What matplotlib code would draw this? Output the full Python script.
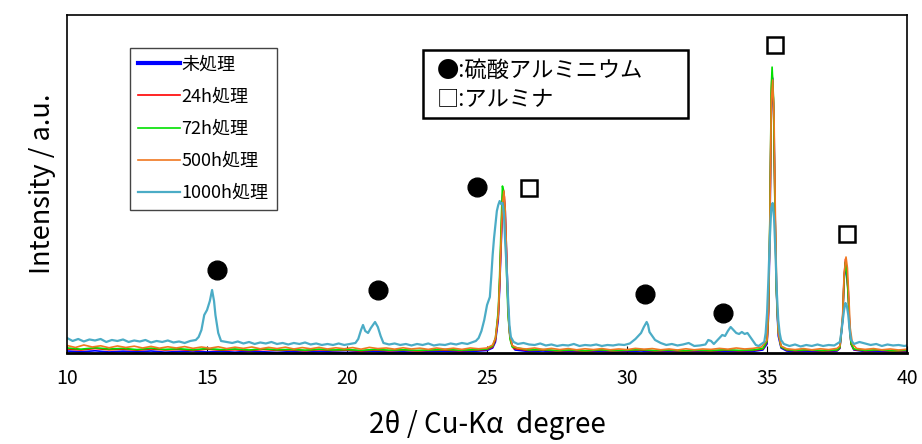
import matplotlib
matplotlib.use("Agg")
import matplotlib.pyplot as plt
from matplotlib.patches import Rectangle

plt.rcParams['font.family'] = ['Noto Sans CJK JP', 'DejaVu Sans']

# XRD パターン (2θ, 強度) 図から読み取った値
blue_pts = [(10.0, 20), (10.5, 12), (11.0, 22), (11.5, 10), (12.0, 18), (12.5, 12), (13.0, 20), (13.5, 8),
            (14.0, 15), (14.5, 20), (15.0, 10), (15.5, 16), (16.0, 8), (16.5, 18), (17.0, 12), (17.5, 6),
            (18.0, 14), (18.5, 8), (19.0, 16), (19.5, 10), (20.0, 6), (20.5, 14), (21.0, 18), (21.5, 8),
            (22.0, 12), (22.5, 6), (23.0, 14), (23.5, 18), (24.0, 10), (24.5, 16), (25.0, 25), (25.2, 50),
            (25.3, 110), (25.4, 330), (25.45, 640), (25.5, 1050), (25.55, 1400), (25.6, 1580), (25.65, 1420),
            (25.7, 980), (25.75, 520), (25.8, 210), (25.9, 70), (26.0, 30), (26.5, 14), (27.0, 20), (27.5, 8),
            (28.0, 16), (28.5, 10), (29.0, 18), (29.5, 8), (30.0, 14), (30.5, 20), (31.0, 10), (31.5, 16),
            (32.0, 8), (32.5, 14), (33.0, 10), (33.5, 18), (34.0, 12), (34.5, 16), (34.85, 30), (35.0, 90),
            (35.05, 350), (35.1, 1150), (35.15, 2450), (35.2, 2750), (35.25, 2250), (35.3, 1150), (35.35, 480),
            (35.4, 170), (35.5, 50), (35.7, 20), (36.0, 12), (36.5, 18), (37.0, 10), (37.5, 20), (37.6, 45),
            (37.7, 320), (37.75, 720), (37.8, 900), (37.85, 760), (37.9, 620), (37.95, 260), (38.0, 90),
            (38.1, 30), (38.5, 14), (39.0, 18), (39.5, 8), (40.0, 14)]

red_pts = [(10.0, 40), (10.5, 30), (11.0, 45), (11.5, 32), (12.0, 38), (12.5, 28), (13.0, 40), (13.5, 30),
           (14.0, 35), (14.5, 25), (15.0, 38), (15.5, 28), (16.0, 32), (16.5, 24), (17.0, 35), (17.5, 26),
           (18.0, 30), (18.5, 22), (19.0, 32), (19.5, 25), (20.0, 28), (20.5, 20), (21.0, 30), (21.5, 22),
           (22.0, 28), (22.5, 20), (23.0, 26), (23.5, 30), (24.0, 22), (24.5, 28), (25.0, 35), (25.2, 60),
           (25.3, 130), (25.4, 380), (25.45, 700), (25.5, 1150), (25.55, 1560), (25.58, 1640), (25.62, 1560),
           (25.67, 1200), (25.72, 700), (25.77, 330), (25.85, 110), (25.95, 45), (26.5, 25), (27.0, 30),
           (27.5, 20), (28.0, 26), (28.5, 18), (29.0, 28), (29.5, 20), (30.0, 25), (30.5, 30), (31.0, 20),
           (31.5, 26), (32.0, 18), (32.5, 24), (33.0, 20), (33.5, 28), (34.0, 22), (34.5, 26), (34.85, 40),
           (35.0, 110), (35.05, 420), (35.1, 1300), (35.15, 2600), (35.18, 2800), (35.23, 2500), (35.28, 1500),
           (35.33, 650), (35.4, 220), (35.5, 60), (35.7, 30), (36.0, 22), (36.5, 28), (37.0, 20), (37.5, 26),
           (37.6, 50), (37.7, 350), (37.75, 760), (37.8, 940), (37.85, 820), (37.9, 560), (37.95, 240),
           (38.0, 90), (38.1, 35), (38.5, 22), (39.0, 28), (39.5, 18), (40.0, 24)]

green_pts = [(10.0, 50), (10.5, 38), (11.0, 52), (11.5, 40), (12.0, 46), (12.5, 34), (13.0, 48), (13.5, 36),
             (14.0, 42), (14.5, 32), (15.0, 44), (15.5, 34), (16.0, 40), (16.5, 30), (17.0, 42), (17.5, 32),
             (18.0, 36), (18.5, 28), (19.0, 38), (19.5, 30), (20.0, 34), (20.5, 26), (21.0, 36), (21.5, 28),
             (22.0, 32), (22.5, 26), (23.0, 30), (23.5, 36), (24.0, 28), (24.5, 32), (25.0, 40), (25.2, 70),
             (25.3, 150), (25.4, 420), (25.45, 780), (25.5, 1250), (25.55, 1670), (25.6, 1600), (25.65, 1250),
             (25.7, 780), (25.75, 380), (25.82, 140), (25.9, 60), (26.5, 30), (27.0, 34), (27.5, 24),
             (28.0, 30), (28.5, 22), (29.0, 32), (29.5, 24), (30.0, 28), (30.5, 34), (31.0, 24), (31.5, 30),
             (32.0, 22), (32.5, 28), (33.0, 24), (33.5, 32), (34.0, 26), (34.5, 30), (34.85, 45), (35.0, 120),
             (35.05, 450), (35.1, 1350), (35.15, 2650), (35.18, 2860), (35.23, 2550), (35.28, 1500),
             (35.33, 640), (35.4, 210), (35.5, 60), (35.7, 34), (36.0, 26), (36.5, 32), (37.0, 24), (37.5, 30),
             (37.6, 55), (37.7, 340), (37.75, 730), (37.8, 910), (37.85, 800), (37.9, 560), (37.95, 250),
             (38.0, 95), (38.1, 40), (38.5, 26), (39.0, 32), (39.5, 22), (40.0, 28)]

orange_pts = [(10.0, 75), (10.3, 55), (10.6, 80), (10.9, 60), (11.2, 72), (11.5, 52), (11.8, 70), (12.1, 55),
              (12.4, 68), (12.7, 50), (13.0, 66), (13.3, 48), (13.6, 62), (13.9, 50), (14.2, 64), (14.5, 46),
              (14.8, 60), (15.1, 48), (15.4, 62), (15.7, 44), (16.0, 58), (16.3, 46), (16.6, 60), (16.9, 42),
              (17.2, 56), (17.5, 44), (17.8, 58), (18.1, 40), (18.4, 54), (18.7, 42), (19.0, 56), (19.3, 40),
              (19.6, 52), (19.9, 42), (20.2, 54), (20.5, 38), (20.8, 56), (21.1, 44), (21.4, 50), (21.7, 38),
              (22.0, 52), (22.3, 40), (22.6, 48), (22.9, 36), (23.2, 50), (23.5, 38), (23.8, 48), (24.1, 36),
              (24.4, 50), (24.7, 42), (25.0, 50), (25.2, 80), (25.3, 150), (25.4, 380), (25.45, 700),
              (25.5, 1100), (25.55, 1480), (25.6, 1620), (25.65, 1430), (25.7, 980), (25.75, 480), (25.8, 200),
              (25.9, 75), (26.1, 48), (26.4, 40), (26.7, 50), (27.0, 36), (27.3, 46), (27.6, 34), (27.9, 44),
              (28.2, 32), (28.5, 42), (28.8, 34), (29.1, 44), (29.4, 32), (29.7, 40), (30.0, 34), (30.3, 46),
              (30.6, 38), (30.9, 44), (31.2, 32), (31.5, 40), (31.8, 30), (32.1, 42), (32.4, 32), (32.7, 40),
              (33.0, 36), (33.3, 46), (33.6, 38), (33.9, 50), (34.2, 40), (34.5, 46), (34.8, 60), (35.0, 130),
              (35.05, 420), (35.1, 1250), (35.15, 2500), (35.2, 2730), (35.25, 2350), (35.3, 1300),
              (35.35, 560), (35.4, 200), (35.5, 70), (35.7, 42), (36.0, 34), (36.3, 44), (36.6, 32), (36.9, 42),
              (37.2, 34), (37.5, 46), (37.6, 70), (37.7, 380), (37.75, 780), (37.82, 960), (37.87, 850),
              (37.92, 560), (37.97, 250), (38.05, 90), (38.2, 45), (38.5, 36), (38.8, 44), (39.1, 32),
              (39.4, 40), (39.7, 30), (40.0, 38)]

cyan_pts = [(10.0, 150), (10.2, 120), (10.4, 140), (10.6, 115), (10.8, 135), (11.0, 125), (11.2, 140),
            (11.4, 110), (11.6, 130), (11.8, 120), (12.0, 135), (12.2, 110), (12.4, 125), (12.6, 115),
            (12.8, 130), (13.0, 105), (13.2, 120), (13.4, 110), (13.6, 125), (13.8, 105), (14.0, 115),
            (14.2, 100), (14.4, 120), (14.6, 130), (14.7, 160), (14.8, 230), (14.9, 380), (15.0, 430),
            (15.1, 520), (15.18, 630), (15.25, 520), (15.3, 380), (15.4, 200), (15.5, 120), (15.7, 110),
            (15.9, 100), (16.1, 115), (16.3, 95), (16.5, 110), (16.7, 90), (16.9, 105), (17.1, 95), (17.3, 110),
            (17.5, 90), (17.7, 100), (17.9, 85), (18.1, 100), (18.3, 90), (18.5, 105), (18.7, 85), (18.9, 95),
            (19.1, 80), (19.3, 90), (19.5, 80), (19.7, 95), (19.9, 80), (20.1, 90), (20.3, 100), (20.4, 140),
            (20.5, 230), (20.57, 280), (20.65, 220), (20.75, 200), (20.85, 250), (21.0, 310), (21.1, 260),
            (21.2, 170), (21.3, 100), (21.5, 85), (21.7, 95), (21.9, 80), (22.1, 90), (22.3, 75), (22.5, 90),
            (22.7, 80), (22.9, 95), (23.1, 75), (23.3, 85), (23.5, 80), (23.7, 95), (23.9, 85), (24.1, 100),
            (24.3, 90), (24.5, 110), (24.6, 120), (24.7, 150), (24.8, 220), (24.9, 330), (25.0, 480),
            (25.05, 520), (25.1, 560), (25.15, 760), (25.2, 980), (25.25, 1150), (25.3, 1280), (25.35, 1420),
            (25.4, 1480), (25.45, 1520), (25.5, 1490), (25.55, 1500), (25.6, 1400), (25.65, 1100), (25.7, 850),
            (25.75, 550), (25.8, 280), (25.85, 160), (25.95, 110), (26.1, 90), (26.3, 100), (26.5, 85),
            (26.7, 80), (26.9, 95), (27.1, 75), (27.3, 85), (27.5, 70), (27.7, 80), (27.9, 75), (28.1, 90),
            (28.3, 70), (28.5, 80), (28.7, 75), (28.9, 85), (29.1, 70), (29.3, 80), (29.5, 75), (29.7, 85),
            (29.9, 80), (30.1, 95), (30.3, 140), (30.4, 170), (30.5, 200), (30.6, 260), (30.7, 310),
            (30.75, 280), (30.8, 210), (30.9, 170), (31.0, 130), (31.2, 100), (31.4, 80), (31.6, 90),
            (31.8, 75), (32.0, 85), (32.2, 100), (32.4, 70), (32.6, 75), (32.8, 85), (32.9, 130), (33.0, 120),
            (33.1, 90), (33.2, 120), (33.3, 150), (33.4, 180), (33.5, 170), (33.6, 220), (33.7, 260),
            (33.8, 230), (33.9, 200), (34.0, 190), (34.1, 210), (34.2, 190), (34.3, 200), (34.4, 160),
            (34.5, 120), (34.6, 80), (34.7, 70), (34.8, 90), (34.9, 110), (34.95, 200), (35.0, 400),
            (35.05, 750), (35.1, 1150), (35.15, 1450), (35.2, 1500), (35.25, 1350), (35.3, 1000), (35.35, 600),
            (35.4, 330), (35.45, 200), (35.5, 130), (35.6, 90), (35.8, 70), (36.0, 85), (36.2, 65), (36.4, 80),
            (36.6, 70), (36.8, 85), (37.0, 70), (37.2, 80), (37.4, 75), (37.6, 110), (37.65, 200), (37.7, 320),
            (37.75, 430), (37.8, 500), (37.85, 470), (37.9, 380), (37.95, 230), (38.0, 130), (38.1, 90),
            (38.3, 110), (38.5, 95), (38.7, 80), (38.9, 90), (39.1, 70), (39.3, 85), (39.5, 75), (39.7, 80),
            (39.9, 70), (40.0, 75)]

labels = ["未処理", "24h処理", "72h処理", "500h処理", "1000h処理"]
colors = ["#0000FF", "#FF0000", "#00E000", "#F07820", "#4BACC6"]
series = [blue_pts, red_pts, green_pts, orange_pts, cyan_pts]

# ピーク帰属マーカー
circle_x = [15.36, 21.11, 24.64, 30.64, 33.43]
circle_y = [830, 630, 1660, 590, 400]
square_x = [26.5, 35.29, 37.86]
square_y = [1650, 3080, 1190]

fig = plt.figure(figsize=(9.22, 4.44), dpi=100)
ax = fig.add_axes([0.0727, 0.205, 0.9111, 0.761])

for pts, c, lab in zip(series, colors, labels):
    x, y = zip(*pts)
    lw = 1.6 if lab == "1000h処理" else 1.2
    ax.plot(x, y, color=c, lw=lw, label=lab)

ax.plot(circle_x, circle_y, 'o', color='black', ms=13.5, zorder=5)
ax.plot(square_x, square_y, 's', mfc='white', mec='black', mew=1.8, ms=11, zorder=5)

ax.set_xlim(10, 40)
ax.set_ylim(0, 3380)
ax.set_xticks([10, 15, 20, 25, 30, 35, 40])
ax.set_yticks([])
ax.tick_params(axis='x', direction='in', length=5, labelsize=14, pad=11)
for s in ax.spines.values():
    s.set_linewidth(1.2)
ax.spines['bottom'].set_linewidth(2)

ax.set_xlabel("2θ / Cu-Kα  degree", fontsize=20, labelpad=15)
ax.set_ylabel("Intensity / a.u.", fontsize=19.5, labelpad=8)

leg = ax.legend(loc='upper left', bbox_to_anchor=(0.075, 0.904), fontsize=13, frameon=True,
                fancybox=False, framealpha=1, edgecolor='#444444', handlelength=2.3,
                handletextpad=0.1, labelspacing=0.78, borderpad=0.45, borderaxespad=0)
leg.get_frame().set_linewidth(1.0)
leg.get_lines()[0].set_linewidth(3)

# 凡例ボックス (マーカーの説明)
ax.add_patch(Rectangle((0.4238, 0.695), 0.3155, 0.201, transform=ax.transAxes,
                       fill=True, fc='white', ec='black', lw=1.8, zorder=6))
ax.text(0.44, 0.837, "●:硫酸アルミニウム", transform=ax.transAxes, fontsize=16,
        va='center', ha='left', zorder=7)
ax.text(0.44, 0.751, "□:アルミナ", transform=ax.transAxes, fontsize=16,
        va='center', ha='left', zorder=7)

fig.savefig("out.png", dpi=100)
